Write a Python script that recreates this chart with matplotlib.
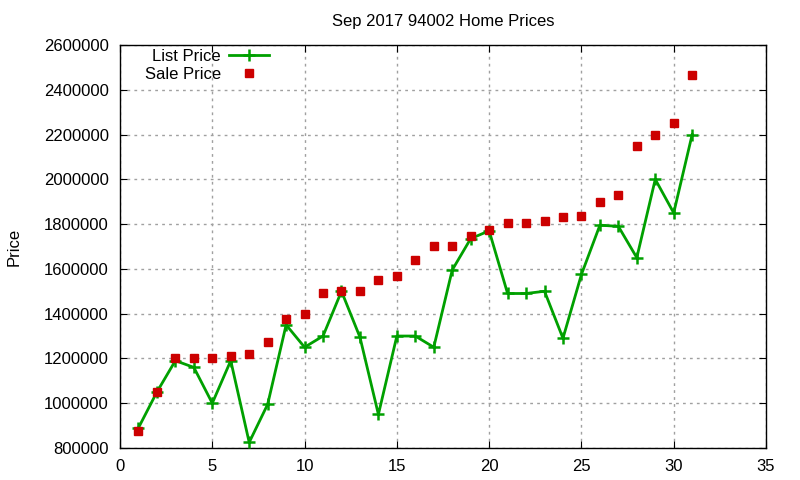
import matplotlib
matplotlib.use("Agg")
import matplotlib.pyplot as plt

plt.rcParams['font.family'] = ['Liberation Sans', 'DejaVu Sans']

days = list(range(1, 32))
list_price = [890000, 1050000, 1190000, 1160000, 1000000, 1190000, 825000, 995000,
              1350000, 1250000, 1300000, 1500000, 1295000, 950000, 1300000, 1300000,
              1250000, 1595000, 1735000, 1770000, 1490000, 1490000, 1500000, 1290000,
              1575000, 1795000, 1790000, 1650000, 2000000, 1850000, 2200000]
sale_price = [875000, 1050000, 1200000, 1200000, 1200000, 1210000, 1220000, 1275000,
              1375000, 1400000, 1490000, 1500000, 1500000, 1550000, 1570000, 1640000,
              1700000, 1700000, 1745000, 1775000, 1805000, 1805000, 1815000, 1830000,
              1835000, 1900000, 1930000, 2150000, 2200000, 2250000, 2465000]
xticks = [0, 5, 10, 15, 20, 25, 30, 35]
yticks = list(range(800000, 2600001, 200000))

fig = plt.figure(figsize=(8, 4.8), dpi=100)
ax = fig.add_axes([0.15, 0.0667, 0.8075, 0.8396])

ax.plot(days, list_price, color='#00a000', linewidth=2, marker='+',
        markersize=8, markeredgewidth=1.8, label='List Price', zorder=3)
ax.plot(days, sale_price, linestyle='none', marker='s', color='#cc0000',
        markersize=6.3, label='Sale Price', zorder=4)

ax.set_xlim(0, 35)
ax.set_ylim(800000, 2600000)
ax.set_xticks(xticks)
ax.set_yticks(yticks)
ax.set_yticklabels([str(v) for v in yticks])
ax.tick_params(direction='in', top=True, right=True, labelsize=12, length=5,
               pad=8)
ax.grid(True, color='#a0a0a0', linestyle=(0, (2, 3)), linewidth=1)
for s in ax.spines.values():
    s.set_color('black')
    s.set_linewidth(1)

ax.set_title('Sep 2017 94002 Home Prices', fontsize=12, pad=14)
ax.set_ylabel('Price', fontsize=12, labelpad=16)

leg = ax.legend(loc='upper left', bbox_to_anchor=(0.036, 0.995), frameon=False,
                markerfirst=False, fontsize=12, handlelength=2.4, labelspacing=0.18,
                borderaxespad=0.0, borderpad=0.1, handletextpad=0.5)

fig.savefig('out.png', dpi=100)
